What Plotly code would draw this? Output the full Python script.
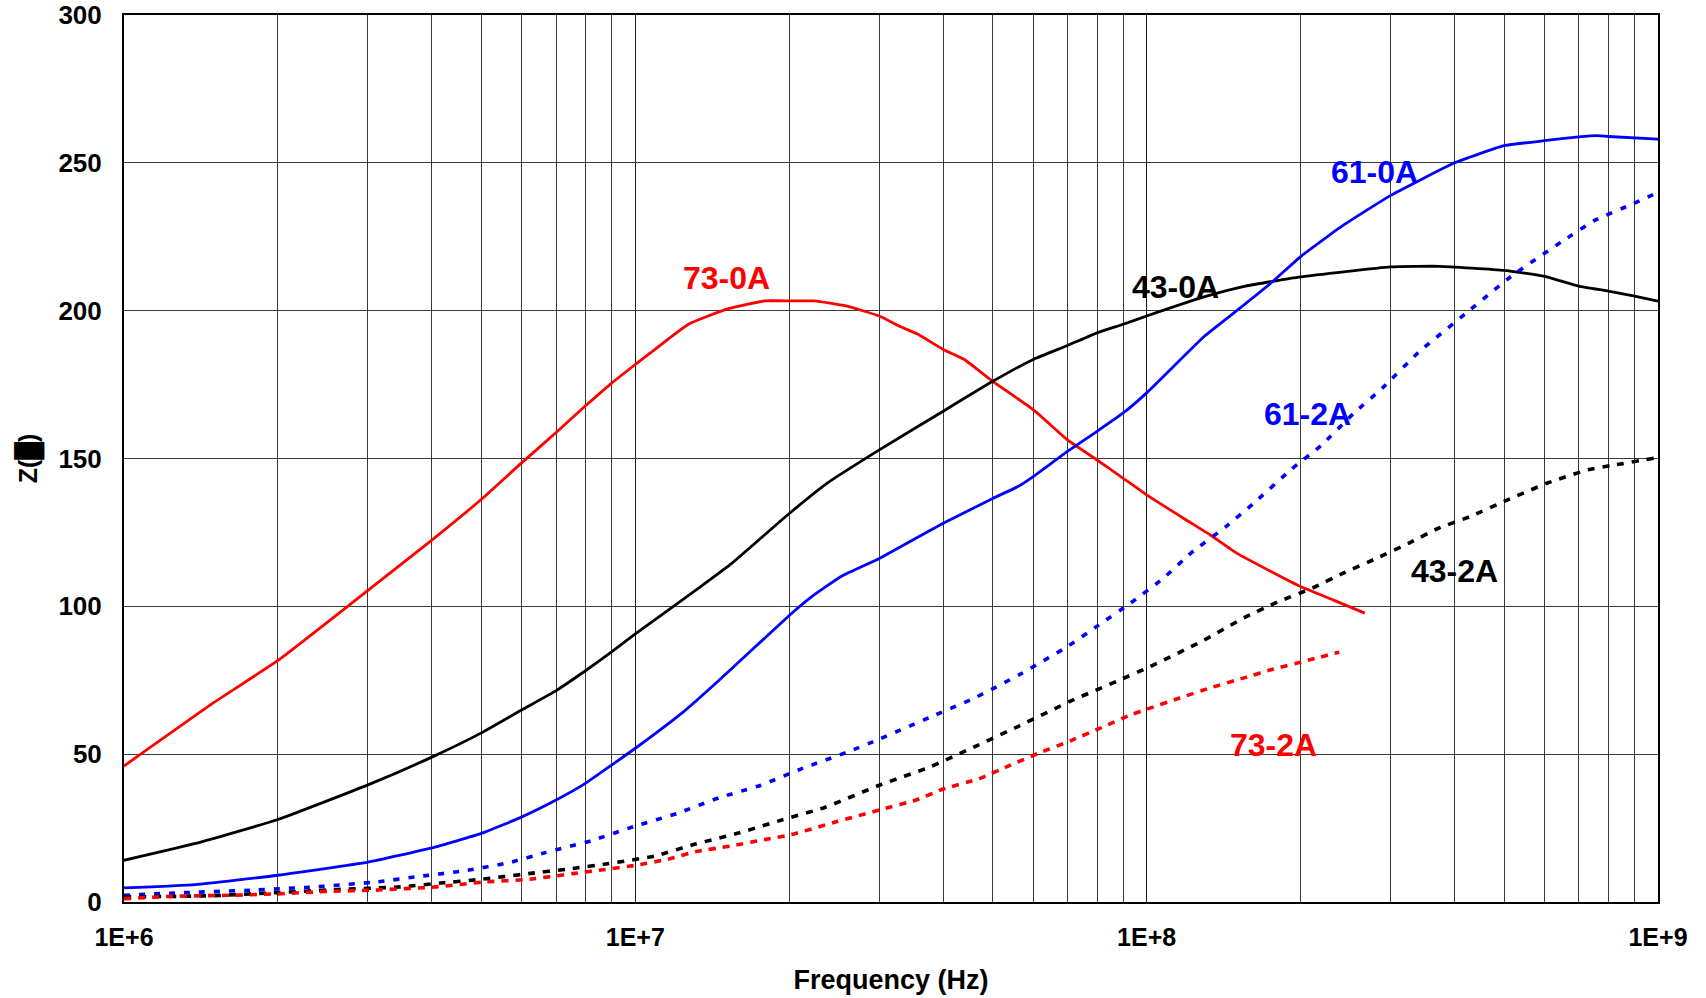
import math
import plotly.graph_objects as go

# ---------------- data ----------------
f_73_0A = [1e6, 1.5e6, 2e6, 3e6, 4e6, 5e6, 6e6, 7e6, 8e6, 9e6, 1e7, 1.07e7, 1.27e7, 1.51e7,
           1.79e7, 2e7, 2.24e7, 2.58e7, 3e7, 3.28e7, 3.57e7, 4e7, 4.4e7, 5e7, 6e7, 7e7, 8e7,
           9e7, 1e8, 1.18e8, 1.33e8, 1.5e8, 1.75e8, 2e8, 2.32e8, 2.67e8]
z_73_0A = [46, 67.5, 81.7, 105.4, 122.4, 136.2, 148.6, 158.8, 167.9, 175.6, 181.8, 185.7, 195.4,
           200.5, 203.3, 203.3, 203.3, 201.6, 198.2, 194.8, 192, 186.9, 183.5, 176.1, 166.5,
           156.3, 149.5, 143.3, 137.7, 129.8, 124.2, 118, 111.8, 106.7, 102.1, 97.7]

f_43_0A = [1e6, 1.38e6, 2e6, 3e6, 4e6, 5e6, 6e6, 7e6, 8e6, 9e6, 1e7, 1.34e7, 1.53e7, 2e7,
           2.37e7, 3e7, 4e7, 5e7, 6e7, 7e7, 8e7, 9e7, 1e8, 1.31e8, 1.56e8, 2e8, 3e8, 3.74e8,
           5e8, 6e8, 7e8, 8e8, 9e8, 1e9]
z_43_0A = [14.1, 19.8, 27.9, 39.6, 49.0, 57.2, 65.0, 71.5, 78.3, 84.7, 90.7, 106.6, 114.0,
           131.4, 141.6, 152.9, 166, 176.1, 183.5, 188.2, 192.5, 195.4, 198.2, 204.9, 208.3,
           211.4, 214.8, 215, 213.6, 211.6, 208.3, 206.6, 204.9, 203.2]

f_61_0A = [1e6, 1.38e6, 2e6, 3e6, 4e6, 5e6, 6e6, 7e6, 8e6, 9e6, 1e7, 1.245e7, 1.46e7, 2e7,
           2.21e7, 2.53e7, 3e7, 4e7, 5e7, 5.6e7, 6e7, 7e7, 8e7, 9e7, 1e8, 1.3e8, 1.5e8,
           1.76e8, 2e8, 2.41e8, 3e8, 3.42e8, 4e8, 5e8, 6e8, 7e8, 7.6e8, 8e8, 1e9]
z_61_0A = [4.75, 5.9, 9.05, 13.5, 18.3, 23.2, 28.8, 34.5, 40.2, 46.4, 52, 64.5, 75.1, 96.9,
           103.2, 110.2, 116.2, 128.1, 136.5, 140.5, 143.9, 152.4, 159.2, 165.4, 172.2, 191.5,
           200, 209.7, 218.3, 228.6, 239, 244.1, 250, 255.8, 257.5, 258.8, 259.2, 258.9, 258]

f_61_2A = [1e6, 1.33e6, 1.78e6, 2.36e6, 3.13e6, 3.79e6, 4.61e6, 5.66e6, 6.67e6, 8.19e6, 1e7,
           1.21e7, 1.46e7, 1.76e7, 2.13e7, 2.6e7, 3e7, 3.76e7, 4.62e7, 5.64e7, 7e7, 8e7, 9.3e7,
           1.08e8, 1.22e8, 1.43e8, 1.62e8, 1.92e8, 2.2e8, 2.54e8, 2.89e8, 3.4e8, 4.19e8,
           5.16e8, 6.49e8, 7.53e8, 8.81e8, 9.88e8]
z_61_2A = [2.3, 3.2, 4.0, 5.1, 6.8, 8.7, 10.5, 13.3, 16.7, 20.7, 25.7, 30, 35.3, 39.5, 45.3,
           50.7, 55.1, 62.4, 69.1, 76.9, 86.4, 93.3, 101.1, 109.6, 118, 127, 134.9, 146.4,
           154.6, 165.3, 173.8, 185.9, 198.8, 211.6, 223.4, 230.6, 235.7, 239.6]

f_43_2A = [1e6, 1.47e6, 1.96e6, 2.61e6, 3.47e6, 4.16e6, 4.95e6, 6.18e6, 7.43e6, 8.87e6, 1.09e7,
           1.31e7, 1.59e7, 1.94e7, 2.34e7, 3e7, 3.76e7, 4.58e7, 5.64e7, 7.11e7, 8.75e7, 1e8,
           1.28e8, 1.55e8, 1.8e8, 2.11e8, 2.43e8, 2.82e8, 3.26e8, 3.73e8, 4.3e8, 5e8, 6.08e8,
           7.3e8, 8.28e8, 9.84e8]
z_43_2A = [1.7, 2.1, 3.1, 4.2, 5.1, 6.4, 7.6, 9.6, 11.2, 13.0, 15.5, 19.6, 23.3, 27.8, 31.9,
           39.5, 45.6, 52.3, 59.6, 68, 74.7, 79.1, 88.1, 96.1, 101.4, 106.2, 111.3, 116.3,
           121.4, 126.5, 130.4, 135.5, 141.7, 146.2, 147.9, 150.1]

f_73_2A = [1e6, 1.23e6, 1.64e6, 2.03e6, 2.5e6, 3.08e6, 4.07e6, 5.01e6, 6.22e6, 7.55e6, 8.73e6,
           1e7, 1.16e7, 1.31e7, 1.53e7, 1.79e7, 2.02e7, 2.48e7, 3e7, 3.54e7, 4e7, 4.7e7, 5.4e7,
           6.14e7, 7.11e7, 8.16e7, 9.37e7, 1e8, 1.16e8, 1.33e8, 1.55e8, 1.77e8, 2.03e8, 2.38e8]
z_73_2A = [1.1, 1.9, 2.3, 2.8, 3.6, 4.0, 5.1, 6.7, 7.7, 9.6, 11.0, 12.4, 14.5, 17.0, 18.9,
           21.1, 22.8, 27.2, 31.1, 34.5, 38.2, 41.7, 46.2, 50.3, 54.6, 59.0, 63.5, 65.2, 69.0,
           72.4, 75.8, 78.8, 81.4, 84.5]

# in-plot labels: name, x (Hz), y (ohm)
labels = ["73-0A", "43-0A", "61-0A", "61-2A", "43-2A", "73-2A"]
label_x = [1.51e7, 1.14e8, 2.79e8, 2.06e8, 4.0e8, 1.77e8]
label_y = [211, 208, 247, 165, 112, 53]

x_tickvals = [1e6, 1e7, 1e8, 1e9]
x_ticktext = ["1E+6", "1E+7", "1E+8", "1E+9"]
minor_vals = [m * 10 ** e for e in (6, 7, 8) for m in range(2, 10)]

RED, BLUE, BLACK = "#FF0000", "#0000FF", "#000000"
FONT = "Liberation Sans, Arial, sans-serif"

series = [
    (f_73_0A, z_73_0A, RED, "solid", 2.8),
    (f_43_0A, z_43_0A, BLACK, "solid", 2.8),
    (f_61_0A, z_61_0A, BLUE, "solid", 2.8),
    (f_61_2A, z_61_2A, BLUE, "6px,9px", 3.6),
    (f_43_2A, z_43_2A, BLACK, "7px,8px", 3.6),
    (f_73_2A, z_73_2A, RED, "7px,7px", 3.6),
]
label_colors = [RED, BLACK, BLUE, BLUE, BLACK, RED]

fig = go.Figure()
for fx, zy, col, dash, w in series:
    fig.add_trace(go.Scatter(x=fx, y=zy, mode="lines",
                             line=dict(color=col, width=w, dash=dash, shape="spline", smoothing=0.4),
                             showlegend=False, hoverinfo="skip"))

for name, lx, ly, col in zip(labels, label_x, label_y, label_colors):
    fig.add_annotation(x=math.log10(lx), y=ly, xref="x", yref="y", text="<b>%s</b>" % name,
                       showarrow=False, font=dict(family=FONT, size=32, color=col))

fig.update_layout(
    width=1706, height=998,
    margin=dict(l=124, r=48, t=15, b=96, autoexpand=False),
    paper_bgcolor="white", plot_bgcolor="white",
    font=dict(family=FONT, color="black"),
    showlegend=False,
)
fig.update_xaxes(
    type="log", range=[6, 9], automargin=False,
    tickvals=x_tickvals, ticktext=x_ticktext,
    tickfont=dict(family=FONT, size=25, color="black", weight="bold"),
    showgrid=True, gridcolor="#1a1a1a", gridwidth=1,
    minor=dict(tickvals=minor_vals, showgrid=True, gridcolor="#3a3a3a", gridwidth=1, ticks=""),
    showline=True, linecolor="black", linewidth=2, mirror=True,
    ticks="", ticklabelstandoff=12,
    title=dict(text="<b>Frequency (Hz)</b>", font=dict(family=FONT, size=27, color="black"), standoff=20),
    zeroline=False,
)
fig.update_yaxes(
    range=[0, 300], dtick=50, tick0=0, automargin=False,
    tickfont=dict(family=FONT, size=26, color="black", weight="bold"),
    showgrid=True, gridcolor="#3a3a3a", gridwidth=1,
    showline=True, linecolor="black", linewidth=2, mirror=True,
    ticks="", ticklabelstandoff=15,
    title=dict(text="<b>Z(█)</b>", font=dict(family=FONT, size=25, color="black"), standoff=14),
    zeroline=False,
)

fig.write_html("out.html", config={"displayModeBar": False},
               post_script="document.body.style.margin='0';document.body.style.overflow='hidden';")
